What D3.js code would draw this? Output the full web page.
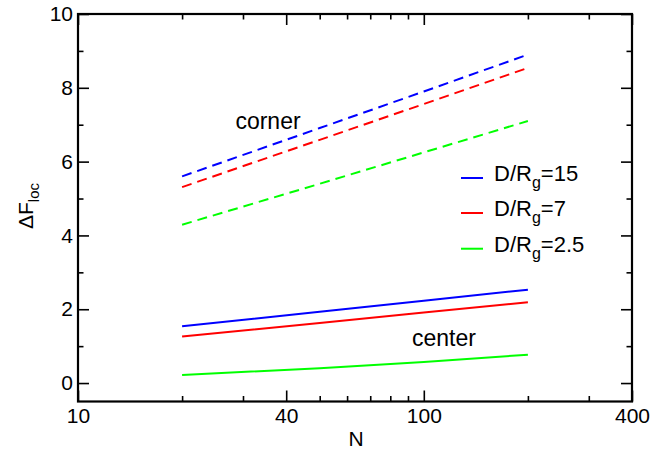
<!DOCTYPE html>
<html>
<head>
<meta charset="utf-8">
<script src="https://cdn.jsdelivr.net/npm/d3@7"></script>
<style>
  html, body { margin: 0; padding: 0; background: #fff; }
  svg { display: block; }
  text { font-family: "Liberation Sans", Arial, Helvetica, sans-serif; fill: #000; }
</style>
</head>
<body>
<svg id="chart" width="669" height="451"></svg>
<script>
// ---- data ----
const N = [20, 50, 100, 200];
const cornerD15  = [5.60, 6.91, 7.90, 8.90];
const cornerD7   = [5.31, 6.59, 7.56, 8.54];
const cornerD2_5 = [4.29, 5.40, 6.25, 7.10];
const centerD15  = [1.54, 1.93, 2.23, 2.53];
const centerD7   = [1.26, 1.63, 1.91, 2.19];
const centerD2_5 = [0.22, 0.40, 0.57, 0.77];

const seriesColors = ["#0000ff", "#ff0000", "#00ff00"];
const legendLabels = [["D/R", "g", "=15"], ["D/R", "g", "=7"], ["D/R", "g", "=2.5"]];

const xMajorTicks = [10, 40, 100, 400];
const xMinorTicks = [20, 30, 50, 60, 70, 80, 90, 200, 300];
const yMajorTicks = [0, 2, 4, 6, 8, 10];
const yMinorTicks = [1, 3, 5, 7, 9];

// ---- layout ----
const W = 669, H = 451;
const margin = {left: 78, top: 14, right: 37, bottom: 49.5};
const iw = W - margin.left - margin.right;
const ih = H - margin.top - margin.bottom;

const svg = d3.select("#chart");
const g = svg.append("g").attr("transform", `translate(${margin.left},${margin.top})`);

const x = d3.scaleLog().domain([10, 400]).range([0, iw]);
const y = d3.scaleLinear().domain([-0.5, 10]).range([ih, 0]);

// ---- lines ----
const line = d3.line().x(d => x(d[0])).y(d => y(d[1]));
const cornerSets = [cornerD15, cornerD7, cornerD2_5];
const centerSets = [centerD15, centerD7, centerD2_5];

cornerSets.forEach((vals, i) => {
  g.append("path")
    .datum(N.map((n, j) => [n, vals[j]]))
    .attr("d", line)
    .attr("fill", "none")
    .attr("stroke", seriesColors[i])
    .attr("stroke-width", 2)
    .attr("stroke-dasharray", "10,6");
});
centerSets.forEach((vals, i) => {
  g.append("path")
    .datum(N.map((n, j) => [n, vals[j]]))
    .attr("d", line)
    .attr("fill", "none")
    .attr("stroke", seriesColors[i])
    .attr("stroke-width", 2);
});

// ---- axes ----
const fmt = d => String(d);
function styleAxis(sel) {
  sel.select(".domain").remove();
  sel.selectAll(".tick line").attr("stroke", "#000").attr("stroke-width", 1.6);
  sel.selectAll(".tick text").style("font-size", "21px").attr("fill", "#000");
}

// bottom
g.append("g").attr("transform", `translate(0,${ih})`)
  .call(d3.axisBottom(x).tickValues(xMajorTicks).tickFormat(fmt).tickSizeInner(-11).tickSizeOuter(0).tickPadding(8))
  .call(styleAxis)
  .selectAll(".tick text").attr("dy", "0.71em").attr("y", 7);
g.append("g").attr("transform", `translate(0,${ih})`)
  .call(d3.axisBottom(x).tickValues(xMinorTicks).tickFormat("").tickSizeInner(-5.5).tickSizeOuter(0))
  .call(styleAxis);
// top
g.append("g")
  .call(d3.axisTop(x).tickValues(xMajorTicks).tickFormat("").tickSizeInner(-11).tickSizeOuter(0))
  .call(styleAxis);
g.append("g")
  .call(d3.axisTop(x).tickValues(xMinorTicks).tickFormat("").tickSizeInner(-5.5).tickSizeOuter(0))
  .call(styleAxis);
// left
g.append("g")
  .call(d3.axisLeft(y).tickValues(yMajorTicks).tickFormat(fmt).tickSizeInner(-11).tickSizeOuter(0).tickPadding(6))
  .call(styleAxis)
  .selectAll(".tick text").attr("x", -5);
g.append("g")
  .call(d3.axisLeft(y).tickValues(yMinorTicks).tickFormat("").tickSizeInner(-5.5).tickSizeOuter(0))
  .call(styleAxis);
// right
g.append("g").attr("transform", `translate(${iw},0)`)
  .call(d3.axisRight(y).tickValues(yMajorTicks).tickFormat("").tickSizeInner(-11).tickSizeOuter(0))
  .call(styleAxis);
g.append("g").attr("transform", `translate(${iw},0)`)
  .call(d3.axisRight(y).tickValues(yMinorTicks).tickFormat("").tickSizeInner(-5.5).tickSizeOuter(0))
  .call(styleAxis);

// frame
g.append("rect").attr("x", 0).attr("y", 0).attr("width", iw).attr("height", ih)
  .attr("fill", "none").attr("stroke", "#000").attr("stroke-width", 2.2);

// ---- axis titles ----
svg.append("text")
  .attr("x", 356)
  .attr("y", 446)
  .attr("text-anchor", "middle")
  .style("font-size", "21px")
  .text("N");

const yt = svg.append("text")
  .attr("transform", `translate(33,206) rotate(-90)`)
  .attr("text-anchor", "middle")
  .style("font-size", "21px");
yt.append("tspan").text("ΔF");
yt.append("tspan").attr("dy", 6).style("font-size", "15px").text("loc");

// ---- annotations ----
svg.append("text").attr("x", 268).attr("y", 129).attr("text-anchor", "middle")
  .style("font-size", "23px").text("corner");
svg.append("text").attr("x", 444).attr("y", 346).attr("text-anchor", "middle")
  .style("font-size", "23px").text("center");

// ---- legend ----
const leg = g.append("g");
const legY = [5.556, 4.607, 3.64];
legendLabels.forEach((lab, i) => {
  const yy = y(legY[i]);
  leg.append("line")
    .attr("x1", 461 - margin.left).attr("x2", 483 - margin.left)
    .attr("y1", yy).attr("y2", yy)
    .attr("stroke", seriesColors[i]).attr("stroke-width", 2);
  const t = leg.append("text")
    .attr("x", 494 - margin.left).attr("y", yy + 3)
    .style("font-size", "22px");
  t.append("tspan").text(lab[0]);
  t.append("tspan").attr("dy", 7).style("font-size", "16px").text(lab[1]);
  t.append("tspan").attr("dy", -7).text(lab[2]);
});
</script>
</body>
</html>
